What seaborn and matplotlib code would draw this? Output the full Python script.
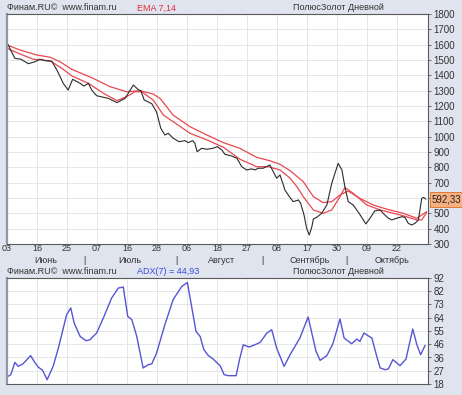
import matplotlib
import numpy as np
import pandas as pd
import seaborn as sns

matplotlib.use("Agg")
import matplotlib.pyplot as plt  # noqa: E402
import matplotlib.transforms as mtransforms  # noqa: E402

# trading day index counted from 03 June
close_day = [0, 2.1, 3.7, 5.7, 7.5, 8.8, 10.1, 11.9, 13.3, 15, 16.3, 17.5, 19.5, 20.5,
             21.7, 22.6, 23.9, 27, 29.3, 31.5, 33.7, 34.9, 35.7, 36.6, 38.6, 39.9, 41,
             42.1, 43, 44.3, 45.9, 47.5, 48.3, 49.5, 50.1, 50.7, 51.9, 53.3, 54.9, 56.1,
             57.3, 58.1, 59.9, 61.3, 62.6, 63.9, 65.3, 66.1, 67, 68.3, 70.1, 71, 71.9,
             72.8, 73.7, 74.1, 75.3, 76.3, 77.7, 78.3, 79.2, 79.9, 80.6, 81.3, 81.7,
             82.6, 83.9, 85.3, 86.6, 88.3, 89.3, 90.1, 91, 92.3, 93.9, 95.7, 96.8, 98.1,
             99.5, 100.3, 101.7, 102.6, 103.9, 105.3, 106.1, 107, 107.9, 108.8, 109.7,
             110.6, 111.1, 111.7]
close_price = [1613, 1511, 1505, 1476, 1489, 1505, 1496, 1493, 1435, 1348, 1304, 1374,
               1348, 1330, 1348, 1304, 1267, 1250, 1222, 1250, 1337, 1309, 1298, 1239,
               1215, 1160, 1055, 1011, 1022, 990, 967, 974, 961, 974, 957, 902, 924, 918,
               924, 935, 913, 885, 874, 859, 804, 783, 790, 783, 794, 794, 815, 772, 729,
               750, 685, 652, 609, 576, 587, 566, 490, 403, 359, 413, 463, 474, 500, 555,
               696, 826, 783, 674, 576, 555, 500, 431, 468, 516, 522, 500, 468, 457, 468,
               478, 474, 435, 424, 435, 457, 598, 604, 592.33]

ema_fast_day = [0, 3.5, 7, 9.7, 11.9, 15, 17.3, 21.7, 25.7, 29.3, 31.9, 34.1, 35.9, 39,
                41.7, 44.3, 48.8, 53.3, 57.7, 62.1, 66.6, 69.7, 72.8, 75.5, 77.3, 79,
                81.7, 84.3, 86.6, 88.8, 90.1, 92.3, 95.9, 99.5, 104.8, 109.3, 110.6, 111.9]
ema_fast = [1576, 1539, 1505, 1500, 1489, 1439, 1396, 1348, 1283, 1235, 1261, 1293, 1293,
            1239, 1141, 1098, 1022, 979, 931, 853, 804, 804, 783, 729, 674, 609, 522, 500,
            522, 609, 668, 631, 555, 522, 490, 457, 457, 505]

ema_slow_day = [0, 3.5, 7.9, 11.5, 14.1, 17.3, 23, 27.5, 31.9, 35.5, 39, 40.8, 44.3, 48.8,
                53.3, 57.7, 62.1, 66.6, 70.1, 72.8, 75.5, 79, 81.7, 84.3, 86.6, 88.8, 91,
                94.1, 97.6, 101.3, 105.7, 109.3, 111.9]
ema_slow = [1598, 1565, 1533, 1518, 1489, 1439, 1380, 1326, 1293, 1300, 1278, 1250, 1141,
            1065, 1011, 961, 924, 865, 843, 820, 778, 707, 609, 570, 576, 620, 645, 598,
            555, 527, 500, 468, 511]

adx_day = [0, 1, 2.1, 3, 4.3, 6.3, 7.5, 8.3, 9.5, 10.7, 12.3, 13.7, 15.9, 17, 17.9, 19.5,
           21.1, 22.1, 23.9, 25.7, 27.9, 29.7, 31, 32.2, 33.3, 34.6, 36.3, 37.7, 38.6,
           39.9, 42.1, 44.3, 46.6, 48.1, 49.3, 50.4, 51.5, 52.5, 53.7, 55, 56.3, 56.8,
           57.9, 59, 61.1, 62, 63, 64.6, 66.1, 67.5, 69.3, 70.6, 71.9, 73.9, 75.5, 78.1,
           80.3, 82.4, 83.5, 85.3, 86.9, 88.8, 89.9, 91.9, 93.3, 94.1, 95.2, 96.3, 97.3,
           98.6, 99.5, 100.8, 101.7, 102.9, 104.8, 106.4, 108.2, 109.3, 110.3, 111.5]
adx_value = [22.9, 24.5, 33.1, 30.3, 32.2, 37.8, 32.7, 29.9, 27.5, 21.0, 30.3, 43.1, 66.4,
             71.1, 60.6, 51.2, 48.2, 48.9, 53.6, 64.1, 78.0, 85.0, 85.7, 65.2, 62.9, 51.2,
             29.2, 31.5, 32.0, 39.7, 59.4, 76.9, 86.1, 88.9, 71.1, 54.7, 51.2, 42.0, 37.8,
             35.4, 32.0, 31.0, 24.5, 23.8, 23.8, 35.0, 45.4, 43.8, 45.4, 47.0, 53.6, 55.9,
             43.1, 30.3, 38.5, 50.1, 64.8, 40.8, 34.5, 37.8, 46.1, 63.4, 50.1, 46.1, 49.4,
             47.7, 53.6, 51.7, 50.1, 37.3, 29.2, 28.0, 28.5, 35.0, 30.8, 35.4, 56.4, 45.4,
             38.5, 44.93]

tick_days = [0, 8, 16, 24, 32, 40, 48, 56, 64, 72, 80, 88, 96, 104]
tick_labels = ["03", "16", "25", "07", "16", "28", "06", "18", "27", "08", "17", "30",
               "09", "22"]
month_names = ["Июнь", "Июль", "Август", "Сентябрь", "Октябрь"]
month_centers = [10.4, 32.8, 57.3, 80.8, 102.7]
month_breaks = [20.5, 45.3, 68.0, 90.4]
price_ticks = list(range(300, 1801, 100))
adx_ticks = list(np.linspace(18, 92, 9))
adx_tick_labels = ["18", "27", "36", "46", "55", "64", "73", "82", "92"]
last_close = 592.33
last_adx = 44.93

BG = "#dfe4ee"
GRID = "#e6e6e6"
RED = "#e8474f"
BLUE = "#5555d5"
TEXT = "#333333"

sns.set_theme(style="white")
plt.rcParams["font.family"] = ["Liberation Sans", "DejaVu Sans"]

fig = plt.figure(figsize=(4.62, 3.95), dpi=100, facecolor=BG)
ax_price = fig.add_axes([7 / 462, 1 - 244 / 395, 421 / 462, 230 / 395])
ax_adx = fig.add_axes([7 / 462, 1 - 384 / 395, 421 / 462, 106 / 395])

close_df = pd.DataFrame({"day": close_day, "price": close_price})
fast_df = pd.DataFrame({"day": ema_fast_day, "price": ema_fast})
slow_df = pd.DataFrame({"day": ema_slow_day, "price": ema_slow})
adx_df = pd.DataFrame({"day": adx_day, "adx": adx_value})

sns.lineplot(data=slow_df, x="day", y="price", ax=ax_price, color=RED, linewidth=0.9,
             estimator=None, sort=False)
sns.lineplot(data=fast_df, x="day", y="price", ax=ax_price, color=RED, linewidth=0.9,
             estimator=None, sort=False)
sns.lineplot(data=close_df, x="day", y="price", ax=ax_price, color="#2b2b2b",
             linewidth=0.8, estimator=None, sort=False)
sns.lineplot(data=adx_df, x="day", y="adx", ax=ax_adx, color=BLUE, linewidth=1.0,
             estimator=None, sort=False)

x_max = 421 / 3.75
for ax in (ax_price, ax_adx):
    ax.set_facecolor("white")
    ax.set_xlim(0, x_max)
    ax.set_xticks(tick_days)
    ax.grid(True, color=GRID, linewidth=0.7)
    ax.set_axisbelow(True)
    ax.set_xlabel("")
    ax.set_ylabel("")
    ax.yaxis.tick_right()
    ax.tick_params(axis="y", right=True, left=False, length=2, width=0.6, pad=2,
                   labelsize=7, labelcolor=TEXT, color="#555555")
    for side, spine in ax.spines.items():
        spine.set_color("#5a5a5a")
        spine.set_linewidth(0.8)
    ax.spines["left"].set_color("#8d97a8")
    ax.spines["left"].set_linewidth(1.6)

ax_price.set_ylim(300, 1800)
ax_price.set_yticks(price_ticks)
# the 600 label sits under the last-price box
ax_price.set_yticklabels(["" if v == 600 else str(v) for v in price_ticks])
ax_price.tick_params(axis="x", bottom=False, length=0, pad=0.3, labelsize=6.5,
                     labelcolor=TEXT)
ax_price.set_xticklabels(tick_labels)

ax_adx.set_ylim(18, 92)
ax_adx.set_yticks(adx_ticks)
ax_adx.set_yticklabels(adx_tick_labels)
ax_adx.tick_params(axis="x", bottom=False, labelbottom=False)

# month names under the day labels
month_tr = mtransforms.blended_transform_factory(ax_price.transData, ax_price.transAxes)
for name, pos in zip(month_names, month_centers):
    ax_price.text(pos, -0.071, name, transform=month_tr, ha="center", va="center",
                  fontsize=6.5, color=TEXT, clip_on=False)
for pos in month_breaks:
    ax_price.text(pos, -0.071, "|", transform=month_tr, ha="center", va="center",
                  fontsize=6.5, color=TEXT, clip_on=False)

# last value marker
last_tr = mtransforms.blended_transform_factory(ax_price.transAxes, ax_price.transData)
ax_price.text(1 + 4 / 421, last_close, f"{last_close:.2f}".replace(".", ","),
              transform=last_tr, ha="left", va="center", fontsize=7, color="#222222",
              clip_on=False, zorder=10,
              bbox=dict(boxstyle="square,pad=0.25", facecolor="#f6b081",
                        edgecolor="#e07a3a", linewidth=0.7))

# headers
header_kw = dict(fontsize=6.5, va="center", ha="left")
fig.text(7 / 462, 1 - 8 / 395, "Финам.RU©  www.finam.ru", color=TEXT, **header_kw)
fig.text(137 / 462, 1 - 8 / 395, "EMA 7,14", color="#e03040", **header_kw)
fig.text(293 / 462, 1 - 8 / 395, "ПолюсЗолот Дневной", color=TEXT, **header_kw)
fig.text(7 / 462, 1 - 271 / 395, "Финам.RU©  www.finam.ru", color=TEXT, **header_kw)
fig.text(137 / 462, 1 - 271 / 395, f"ADX(7) = {last_adx:.2f}".replace(".", ","),
         color="#3a4ad8", **header_kw)
fig.text(293 / 462, 1 - 271 / 395, "ПолюсЗолот Дневной", color=TEXT, **header_kw)

fig.savefig("out.png", dpi=100, facecolor=BG)
plt.close(fig)
